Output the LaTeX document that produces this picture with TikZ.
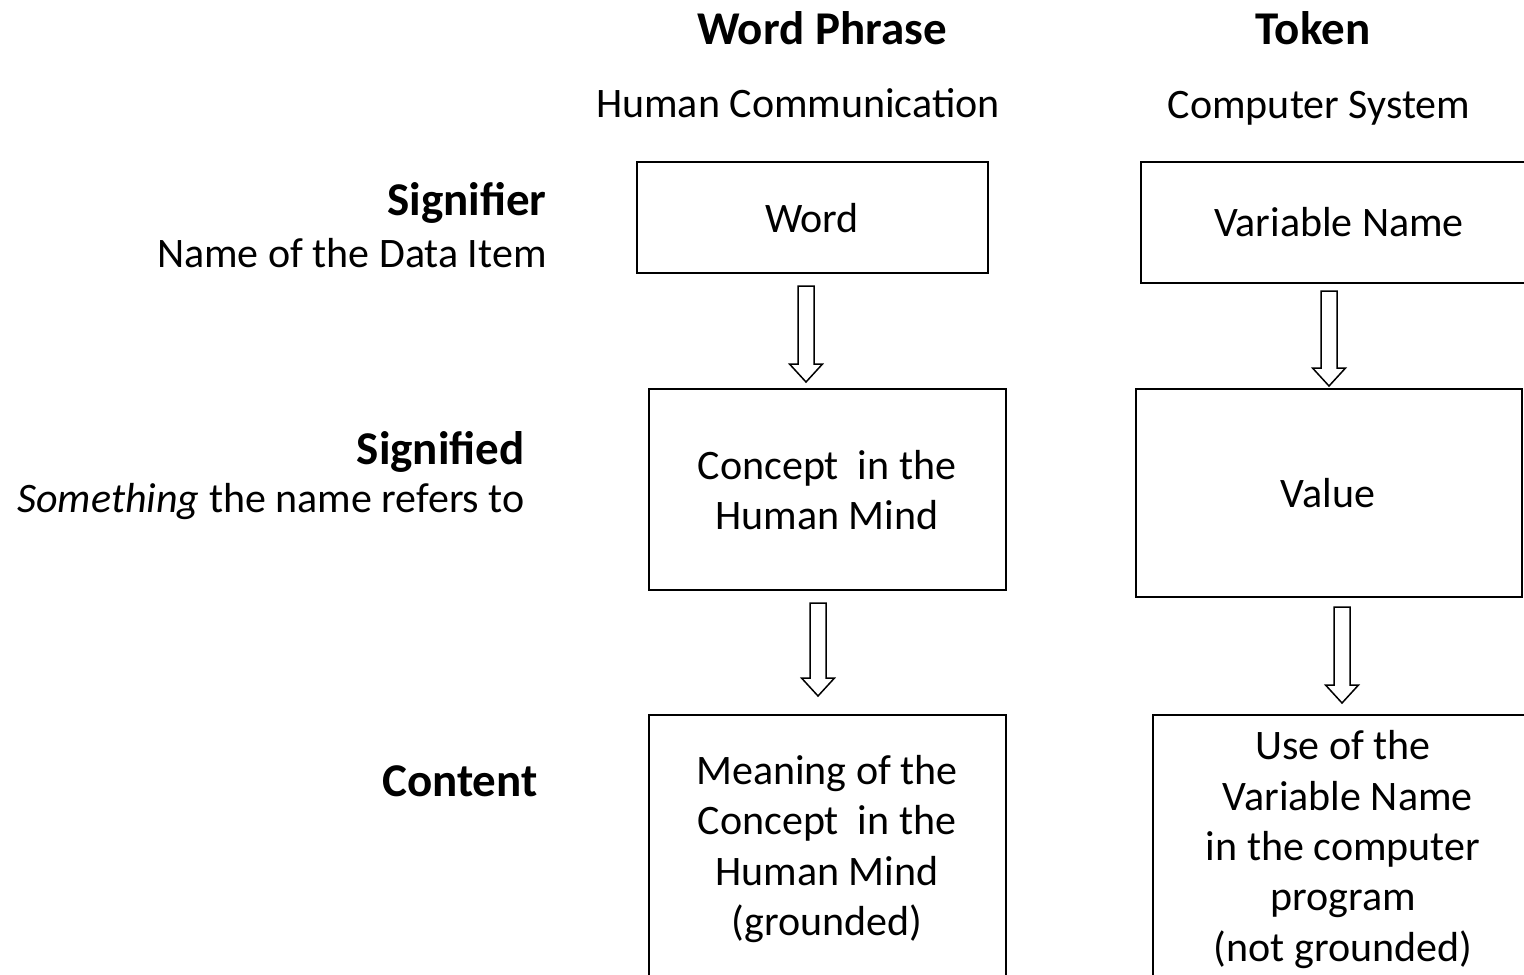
\documentclass[tikz,border=0pt]{standalone}
\usepackage{fontspec}
\setmainfont{Carlito}
\begin{document}
\begin{tikzpicture}[x=0.5pt,y=-0.5pt,
  box/.style 2 args={draw=black,line width=1pt,minimum width={#1*0.5pt},minimum height={#2*0.5pt},inner sep=0pt,outer sep=0pt},
  txt/.style={inner sep=0pt,align=center,font=\fontsize{21}{25.2}\selectfont},
  hd/.style={inner sep=0pt,font=\fontsize{23.5}{28}\selectfont\bfseries},
  lbl/.style={inner sep=0pt,anchor=east,font=\fontsize{21}{25.2}\selectfont},
  blk/.style={draw=black,line width=0.75pt,line join=miter}]
\useasboundingbox (0,0) rectangle (1524,974);
\fill[white] (0,0) rectangle (1524,974);
\newcommand{\blockarrow}[3]{% x, ytop, ytip
  \draw[blk] (#1-8,#2) -- (#1+8,#2) -- (#1+8,#3-18) -- (#1+16.5,#3-18) -- (#1,#3)
    -- (#1-16.5,#3-18) -- (#1-8,#3-18) -- cycle;}
% headings
\node[hd] (h1) at (822,28) {Word Phrase};
\node[hd] (h2) at (1313,28) {Token};
\node[txt] (s1) at (798,103) {Human Communication};
\node[txt] (s2) at (1319,108) {Computer System};
% row labels
\node[hd,anchor=east] (l1) at (547,203) {Signifier};
\node[lbl] (l1b) at (547,253) {Name of the Data Item};
\node[hd,anchor=east] (l2) at (525,452) {Signified};
\node[lbl] (l2b) at (525,502) {\textit{Something} the name refers to};
\node[hd,anchor=east] (l3) at (538,781) {Content};
% boxes
\node[box={351}{111}] (word) at (812.5,217.5) {};
\node[box={399}{121}] (var) at (1340.5,222.5) {};
\node[box={357}{201}] (concept) at (827.5,489.5) {};
\node[box={386}{208}] (value) at (1329,493) {};
\node[box={357}{290}] (meaning) at (827.5,860) {};
\node[box={387}{290}] (use) at (1346.5,860) {};
% box texts
\node[txt] (tword) at (812,218) {Word};
\node[txt] (tvar) at (1339,222) {Variable Name};
\node[txt] (tconcept) at (827,490) {Concept~ in the\\Human Mind};
\node[txt] (tvalue) at (1328,493) {Value};
\node[txt] (tmeaning) at (827,849) {Meaning of the\\Concept~ in the\\Human Mind\\(grounded)};
\node[txt] (tuse) at (1343,849.5) {Use of the\\\ Variable Name\\in the computer\\program\\(not grounded)};
% arrows
\blockarrow{806}{286}{382}
\blockarrow{1329}{291}{386}
\blockarrow{818}{603}{696}
\blockarrow{1342}{607}{703}
\end{tikzpicture}
\end{document}
